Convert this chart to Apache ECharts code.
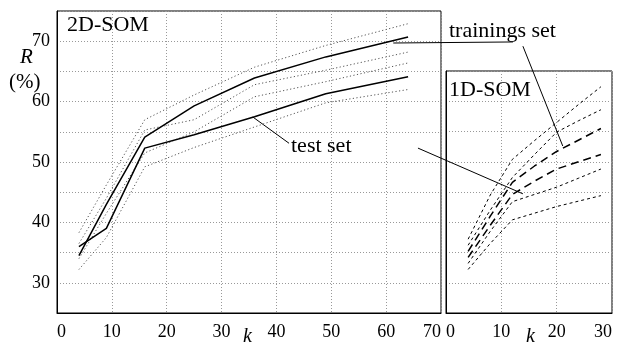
<!DOCTYPE html>
<html>
<head>
    <meta charset="utf-8">
    <title>SOM R(%) vs k</title>
    <script src="https://cdn.jsdelivr.net/npm/echarts/dist/echarts.min.js"></script>
    <style>
        body { margin: 0; background: #fff; }
    </style>
</head>
<body>
    <div id="main" style="width:624px;height:342px;"></div>

    <script type="text/javascript">
        // 2D-SOM: k = 4, 9, 16, ... (solid = means, dotted = spread)
        var k2d = [4, 9, 16, 25, 36, 49, 64];
        var train2d = [34.5, 43.0, 54.1, 59.3, 63.9, 67.4, 70.7];
        var test2d = [36.0, 39.0, 52.3, 54.5, 57.5, 61.3, 64.1];
        var band2dA = [38.3, 46.2, 57.0, 61.1, 65.7, 69.3, 72.9];
        var band2dB = [36.5, 44.0, 55.3, 57.0, 62.8, 65.2, 68.2];
        var band2dC = [34.0, 41.5, 51.5, 55.0, 60.8, 63.3, 66.4];
        var band2dD = [32.2, 37.5, 49.2, 52.4, 55.8, 59.8, 62.0];

        // 1D-SOM (long dash = means, short dash = spread)
        var k1d = [4, 8, 12, 16, 20, 24, 28];
        var train1d = [35.2, 41.0, 46.6, 49.3, 51.7, 53.6, 55.5];
        var test1d = [34.2, 39.5, 44.6, 46.8, 48.8, 50.0, 51.2];
        var band1dA = [37.2, 44.5, 50.4, 53.5, 56.5, 59.5, 62.4];
        var band1dB = [36.2, 42.0, 47.4, 51.2, 54.9, 56.8, 58.6];
        var band1dC = [33.2, 38.5, 43.4, 44.6, 45.8, 47.3, 48.8];
        var band1dD = [32.2, 36.5, 40.4, 41.5, 42.6, 43.5, 44.4];

        var yTicks = [30, 40, 50, 60, 70];

        // callout lines, in data coords of the grid they point into
        var trainCallout = [[0, 61.3, 69.7], [1, 12.1, 69.8]];
        var trainCallout2 = [[1, 13.9, 69.1], [1, 21.1, 52.6]];
        var testCallout = [[0, 35.7, 57.45], [0, 42.3, 53.1]];
        var testCallout2 = [[0, 65.8, 52.3], [1, 13.9, 44.7]];

        var font = 'Liberation Serif';

        function pairs(xs, ys) {
            return xs.map(function (x, i) { return [x, ys[i]]; });
        }

        function line(name, grid, xs, ys, type, width, color) {
            return {
                name: name,
                type: 'line',
                xAxisIndex: grid,
                yAxisIndex: grid,
                data: pairs(xs, ys),
                symbol: 'none',
                silent: true,
                lineStyle: { color: color || '#000', width: width, type: type }
            };
        }

        var splitStyle = { show: true, lineStyle: { color: '#999', type: [1, 2], width: 1 } };
        var labelStyle = { color: '#000', fontFamily: font, fontSize: 18 };
        var dots = [1.2, 2.4];

        var myChart = echarts.init(document.getElementById('main'));

        var option = {
            animation: false,
            backgroundColor: '#fff',
            grid: [
                { left: 57, top: 11, width: 384, height: 302, show: true, borderColor: '#000', borderWidth: 1 },
                { left: 446, top: 71, width: 166, height: 242, show: true, borderColor: '#000', borderWidth: 1 }
            ],
            xAxis: [{
                gridIndex: 0, type: 'value', min: 0, max: 70, interval: 10,
                axisLine: { lineStyle: { color: '#000' } },
                axisTick: { show: false },
                splitLine: splitStyle,
                axisLabel: Object.assign({ margin: 10, alignMinLabel: 'left', alignMaxLabel: 'right' }, labelStyle)
            }, {
                gridIndex: 1, type: 'value', min: 0, max: 30, interval: 10,
                axisLine: { lineStyle: { color: '#000' } },
                axisTick: { show: false },
                splitLine: splitStyle,
                axisLabel: Object.assign({ margin: 10, alignMinLabel: 'left', alignMaxLabel: 'right' }, labelStyle)
            }],
            yAxis: [{
                gridIndex: 0, type: 'value', min: 25, max: 75, interval: 5,
                axisLine: { lineStyle: { color: '#000' } },
                axisTick: { show: false },
                splitLine: splitStyle,
                axisLabel: Object.assign({
                    margin: 7,
                    formatter: function (v) { return yTicks.indexOf(v) >= 0 ? String(v) : ''; }
                }, labelStyle)
            }, {
                gridIndex: 1, type: 'value', min: 25, max: 65, interval: 5,
                axisLine: { lineStyle: { color: '#000' } },
                axisTick: { show: false },
                splitLine: splitStyle,
                axisLabel: { show: false }
            }],
            series: [
                line('2d band A', 0, k2d, band2dA, dots, 1, '#555'),
                line('2d band B', 0, k2d, band2dB, dots, 1, '#555'),
                line('2d band C', 0, k2d, band2dC, dots, 1, '#555'),
                line('2d band D', 0, k2d, band2dD, dots, 1, '#555'),
                line('2d train', 0, k2d, train2d, 'solid', 1.5),
                line('2d test', 0, k2d, test2d, 'solid', 1.5),
                line('1d band A', 1, k1d, band1dA, [3, 3], 1),
                line('1d band B', 1, k1d, band1dB, [3, 3], 1),
                line('1d band C', 1, k1d, band1dC, [3, 3], 1),
                line('1d band D', 1, k1d, band1dD, [3, 3], 1),
                line('1d train', 1, k1d, train1d, [8, 5], 1.5),
                line('1d test', 1, k1d, test1d, [8, 5], 1.5)
            ]
        };

        myChart.setOption(option);

        function px(p) {
            return myChart.convertToPixel({ gridIndex: p[0] }, [p[1], p[2]]);
        }

        function seg(a) {
            return {
                type: 'polyline',
                silent: true,
                shape: { points: a.map(px) },
                style: { stroke: '#000', lineWidth: 1, fill: null }
            };
        }

        function txt(s, left, top, size, italic) {
            return {
                type: 'text', left: left, top: top, silent: true,
                style: {
                    text: s, fill: '#000', fontFamily: font, fontSize: size,
                    fontStyle: italic ? 'italic' : 'normal'
                }
            };
        }

        myChart.setOption({
            graphic: [
                seg(trainCallout),
                seg(trainCallout2),
                seg(testCallout),
                seg(testCallout2),
                txt('2D-SOM', 67, 14, 22),
                txt('1D-SOM', 449, 79, 22),
                txt('trainings set', 449, 20, 22),
                txt('test set', 291, 135, 22),
                txt('R', 20, 47, 21, true),
                txt('(%)', 9, 72, 21),
                txt('k', 243, 327, 20, true),
                txt('k', 526, 327, 20, true)
            ]
        });
    </script>
</body>
</html>
